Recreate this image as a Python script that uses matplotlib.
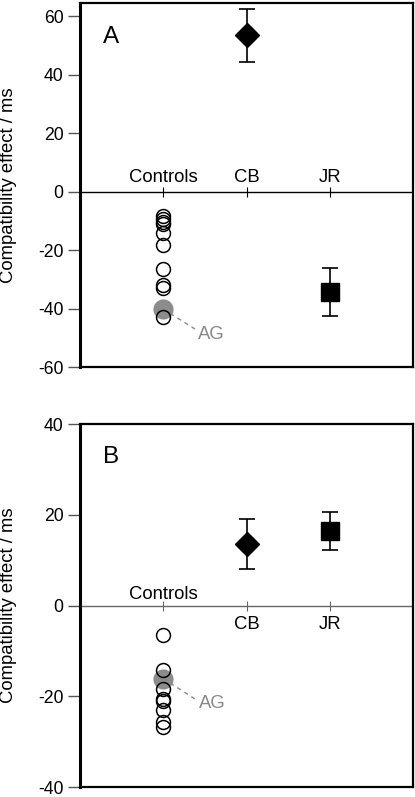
import matplotlib.pyplot as plt
import numpy as np

plt.rcParams['font.family'] = ['Liberation Sans', 'DejaVu Sans']
plt.rcParams['axes.unicode_minus'] = False

# categories and positions on the x axis
groups = ["Controls", "CB", "JR"]
xpos = [1, 2, 3]

# Panel A values (ms)
controls_a = [-8.5, -9.5, -10.3, -11.2, -14.1, -18.1, -26.4, -31.8, -33.0, -42.9]
ag_a = -40.2
cb_a, cb_err_a = 53.4, 9.0
jr_a, jr_err_a = -34.4, 8.3

# Panel B values (ms)
controls_b = [-6.5, -14.3, -18.3, -20.5, -21.0, -23.0, -25.6, -26.8]
ag_b = -16.1
cb_b, cb_err_b = 13.6, 5.5
jr_b, jr_err_b = 16.4, 4.1


def draw_panel(ax, letter, letter_y, controls, ag, cb, cb_err, jr, jr_err, ylim,
               yticks, label_y, ag_line, ag_text, zero_color):
    ax.set_xlim(0, 4)
    ax.set_ylim(*ylim)
    ax.set_yticks(yticks)
    ax.set_xticks([])
    ax.tick_params(axis='y', direction='out', length=9, width=1, color='#555555',
                   labelsize=12.7, pad=3)
    for s in ax.spines.values():
        s.set_linewidth(1.6)
    ax.spines['left'].set_linewidth(2.2)

    # zero line with small category ticks
    ax.axhline(0, color=zero_color, lw=1.0, zorder=1)
    ax.plot(xpos, np.zeros(len(xpos)), ls='none', marker='|', ms=7, mew=0.8,
            color=zero_color, zorder=1)

    # AG link and label
    ax.plot([xpos[0], ag_line[0]], [ag, ag_line[1]], ls='--', color='#888888',
            lw=1.0, dashes=(3, 3), zorder=2)
    ax.text(ag_text[0], ag_text[1], "AG", color='#888888', fontsize=13.3,
            ha='left', va='center')

    # AG gray dot, then the controls as open circles on top
    ax.plot([xpos[0]], [ag], 'o', ms=14.5, color='#8c8c8c', mec='none', zorder=3)
    ax.plot(np.full(len(controls), xpos[0]), controls, 'o', ms=10, mfc='none',
            mec='black', mew=1.1, zorder=4)

    # patients
    ax.errorbar([xpos[1]], [cb], yerr=[cb_err], fmt='D', ms=12, color='black',
                ecolor='black', elinewidth=1.2, capsize=6, capthick=1.2, zorder=5)
    ax.errorbar([xpos[2]], [jr], yerr=[jr_err], fmt='s', ms=13, color='black',
                ecolor='black', elinewidth=1.2, capsize=6, capthick=1.2, zorder=5)

    for x, name, ly in zip(xpos, groups, label_y):
        ax.text(x, ly, name, ha='center', va='center', fontsize=13.3)

    ax.text(0.27, letter_y, letter, fontsize=17.5, ha='left', va='center')
    ax.set_ylabel("Compatibility effect / ms", fontsize=13.3)
    ax.yaxis.set_label_coords(-0.19, 0.5)


fig = plt.figure(figsize=(4.15, 7.97), dpi=100)
ax_a = fig.add_axes([0.193, 0.5395, 0.802, 0.4567])
ax_b = fig.add_axes([0.193, 0.0125, 0.802, 0.4555])

draw_panel(ax_a, "A", 52.8, controls_a, ag_a, cb_a, cb_err_a, jr_a, jr_err_a,
           ylim=(-60, 64.5), yticks=[-60, -40, -20, 0, 20, 40, 60],
           label_y=[4.9, 4.9, 4.9], ag_line=(1.38, -47.0), ag_text=(1.42, -48.8),
           zero_color='black')
draw_panel(ax_b, "B", 32.8, controls_b, ag_b, cb_b, cb_err_b, jr_b, jr_err_b,
           ylim=(-40, 40), yticks=[-40, -20, 0, 20, 40],
           label_y=[2.5, -4.1, -4.1], ag_line=(1.38, -20.6), ag_text=(1.43, -21.7),
           zero_color='#666666')

fig.savefig("out.png", dpi=100)
